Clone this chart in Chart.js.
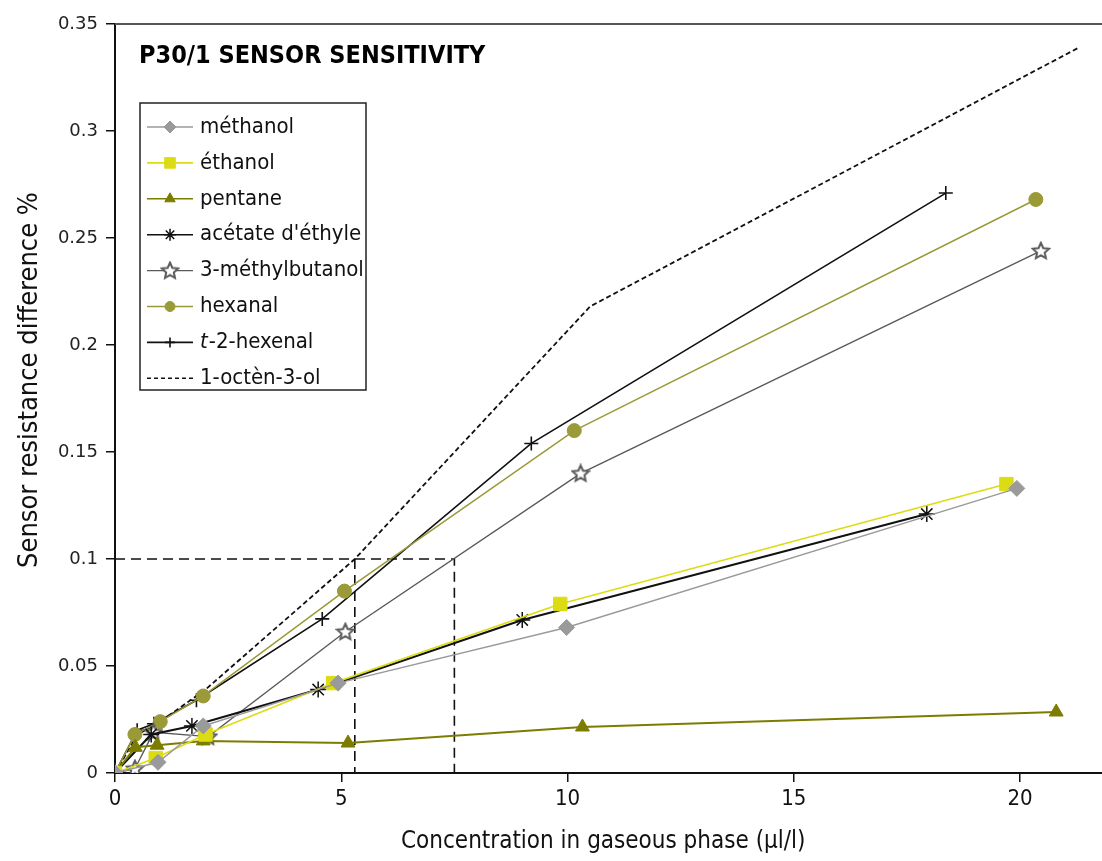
<!DOCTYPE html>
<html>
<head>
<meta charset="utf-8">
<script src="https://cdn.jsdelivr.net/npm/chart.js@4.4.1/dist/chart.umd.min.js"></script>
<style>
  html, body { margin: 0; padding: 0; background: #fff; overflow: hidden; }
  #wrap { width: 1102px; height: 861px; position: relative; }
  canvas { display: block; }
</style>
</head>
<body>
<div id="wrap"><canvas id="c" width="1102" height="861"></canvas></div>
<script>
// ---------- data ----------
const chartTitle = "P30/1 SENSOR SENSITIVITY";
const xTitle = "Concentration in gaseous phase (µl/l)";
const yTitle = "Sensor resistance difference %";

const seriesNames = ["méthanol", "éthanol", "pentane", "acétate d'éthyle", "3-méthylbutanol", "hexanal", "t-2-hexenal", "1-octèn-3-ol"];

const methanolX = [0, 0.95, 1.95, 4.93, 9.98, 19.93];
const methanolY = [0, 0.005, 0.022, 0.042, 0.068, 0.133];

const ethanolX = [0, 0.9, 2.0, 4.82, 9.84, 19.7];
const ethanolY = [0, 0.007, 0.018, 0.042, 0.079, 0.135];

const pentaneX = [0, 0.45, 0.93, 1.95, 5.15, 10.33, 20.8];
const pentaneY = [0, 0.012, 0.013, 0.015, 0.014, 0.0215, 0.0285];

const acetateX = [0, 0.8, 1.7, 4.49, 9.0, 17.94];
const acetateY = [0, 0.018, 0.022, 0.039, 0.0715, 0.121];

const methylbutanolX = [0, 0.44, 0.85, 2.06, 5.09, 10.29, 20.46];
const methylbutanolY = [0, 0.002, 0.019, 0.017, 0.066, 0.140, 0.244];

const hexanalX = [0, 0.44, 1.0, 1.95, 5.07, 10.15, 20.35];
const hexanalY = [0, 0.018, 0.024, 0.036, 0.085, 0.160, 0.268];

const hexenalX = [0, 0.49, 0.86, 1.8, 4.58, 9.2, 18.36];
const hexenalY = [0, 0.020, 0.023, 0.034, 0.072, 0.154, 0.271];

const octenolX = [0, 0.5, 1.0, 2.0, 5.3, 10.5, 21.3];
const octenolY = [0, 0.018, 0.024, 0.039, 0.100, 0.218, 0.339];

// reference (guide) lines at 0.1 %
const guideLevel = 0.1;
const guideXs = [5.3, 7.5];

const xTicks = [0, 5, 10, 15, 20];
const yTicks = [0, 0.05, 0.1, 0.15, 0.2, 0.25, 0.3, 0.35];

// ---------- styles ----------
const NARROW = "'DejaVu Sans Condensed', 'Liberation Sans Narrow', sans-serif";
const PX_PER_UNIT = 45.25; // horizontal scale of the original plot

function makeStar(color) {
  const c = document.createElement('canvas');
  c.width = 20; c.height = 20;
  const g = c.getContext('2d');
  g.beginPath();
  for (let i = 0; i < 10; i++) {
    const r = i % 2 === 0 ? 8.5 : 4;
    const a = -Math.PI / 2 + i * Math.PI / 5;
    const px = 10 + r * Math.cos(a), py = 10.5 + r * Math.sin(a);
    if (i === 0) g.moveTo(px, py); else g.lineTo(px, py);
  }
  g.closePath();
  g.fillStyle = '#ffffff';
  g.fill();
  g.lineWidth = 2;
  g.strokeStyle = color;
  g.stroke();
  return c;
}
const starImg = makeStar('#5a5a5a');

function pts(xs, ys) { return xs.map((x, i) => ({ x: x, y: ys[i] })); }

function series(label, xs, ys, color, style, radius, width, extra) {
  return Object.assign({
    label: label,
    data: pts(xs, ys),
    borderColor: color,
    backgroundColor: color,
    pointBackgroundColor: color,
    pointBorderColor: color,
    pointStyle: style,
    pointRadius: radius,
    pointBorderWidth: 1,
    borderWidth: width,
    tension: 0,
    showLine: true,
    fill: false
  }, extra || {});
}

const datasets = [
  series(seriesNames[0], methanolX, methanolY, '#9a9a9a', 'rectRot', 8, 1.5),
  series(seriesNames[1], ethanolX, ethanolY, '#dcdc14', 'rect', 9.5, 1.6),
  series(seriesNames[2], pentaneX, pentaneY, '#7c7c00', 'triangle', 8, 2),
  series(seriesNames[3], acetateX, acetateY, '#111111', 'star', 8, 2, { pointBorderWidth: 1.5 }),
  series(seriesNames[4], methylbutanolX, methylbutanolY, '#5a5a5a', starImg, 8, 1.4),
  series(seriesNames[5], hexanalX, hexanalY, '#9a9a38', 'circle', 7, 1.5),
  series(seriesNames[6], hexenalX, hexenalY, '#111111', 'cross', 7, 1.6, { pointBorderWidth: 1.6 }),
  series(seriesNames[7], octenolX, octenolY, '#111111', 'circle', 0, 1.8, { borderDash: [5, 3] }),
  // guide lines
  {
    label: 'guide1',
    data: [{ x: 0, y: guideLevel }, { x: guideXs[1], y: guideLevel }, { x: guideXs[1], y: 0 }],
    borderColor: '#111', borderWidth: 1.6, borderDash: [10, 6], pointRadius: 0, showLine: true, tension: 0
  },
  {
    label: 'guide2',
    data: [{ x: guideXs[0], y: guideLevel }, { x: guideXs[0], y: 0 }],
    borderColor: '#111', borderWidth: 1.6, borderDash: [10, 6], pointRadius: 0, showLine: true, tension: 0
  }
];

// ---------- plugins ----------
const frameAndLegend = {
  id: 'frameAndLegend',
  afterDraw(chart) {
    const ctx = chart.ctx;
    const a = chart.chartArea;
    ctx.save();
    // top border
    ctx.strokeStyle = '#555';
    ctx.lineWidth = 2;
    ctx.beginPath();
    ctx.moveTo(a.left, a.top);
    ctx.lineTo(1102, a.top);
    ctx.stroke();
    // bottom axis runs to the right edge of the picture
    ctx.strokeStyle = '#111';
    ctx.beginPath();
    ctx.moveTo(a.right - 2, a.bottom);
    ctx.lineTo(1102, a.bottom);
    ctx.stroke();

    // y axis title
    ctx.save();
    ctx.translate(30, 380);
    ctx.rotate(-Math.PI / 2);
    ctx.fillStyle = '#111';
    ctx.font = "27px " + NARROW;
    ctx.textAlign = 'center';
    ctx.textBaseline = 'middle';
    ctx.fillText(yTitle, 0, 0);
    ctx.restore();

    // title
    ctx.fillStyle = '#000';
    ctx.font = "bold 25px " + NARROW;
    ctx.textBaseline = 'middle';
    ctx.textAlign = 'left';
    ctx.fillText(chartTitle, 139, 56);

    // legend box
    const bx = 140, by = 103, bw = 226, bh = 287;
    ctx.fillStyle = '#fff';
    ctx.fillRect(bx, by, bw, bh);
    ctx.strokeStyle = '#222';
    ctx.lineWidth = 1.5;
    ctx.strokeRect(bx, by, bw, bh);

    ctx.font = "22px " + NARROW;
    for (let i = 0; i < 8; i++) {
      const d = chart.data.datasets[i];
      const yy = 127 + i * 35.9;
      ctx.save();
      ctx.strokeStyle = d.borderColor;
      ctx.lineWidth = Math.min(d.borderWidth, 1.6);
      ctx.setLineDash(d.borderDash ? [4, 3] : []);
      ctx.beginPath();
      ctx.moveTo(147, yy);
      ctx.lineTo(193, yy);
      ctx.stroke();
      ctx.restore();
      if (d.pointRadius > 0) {
        ctx.save();
        ctx.fillStyle = d.pointBackgroundColor;
        ctx.strokeStyle = d.pointBorderColor;
        ctx.lineWidth = d.pointBorderWidth;
        Chart.helpers.drawPoint(ctx, {
          pointStyle: d.pointStyle,
          rotation: 0,
          radius: Math.max(5, d.pointRadius - 2),
          borderWidth: d.pointBorderWidth
        }, 170, yy);
        ctx.restore();
      }
      ctx.fillStyle = '#111';
      ctx.textAlign = 'left';
      ctx.textBaseline = 'middle';
      if (i === 6) {
        ctx.font = "italic 22px " + NARROW;
        ctx.fillText('t', 200, yy);
        const w = ctx.measureText('t').width;
        ctx.font = "22px " + NARROW;
        ctx.fillText('-2-hexenal', 200 + w + 1, yy);
      } else {
        ctx.fillText(d.label, 200, yy);
      }
    }
    ctx.restore();
  }
};

const chart = new Chart(document.getElementById('c'), {
  type: 'scatter',
  data: { datasets: datasets },
  options: {
    responsive: false,
    animation: false,
    events: [],
    layout: { padding: { top: 24, right: 2, left: 0, bottom: 0 } },
    plugins: { legend: { display: false }, tooltip: { enabled: false }, title: { display: false } },
    scales: {
      x: {
        type: 'linear',
        min: 0, max: 21.8,
        afterFit(s) { s.height = 88; s.paddingRight = 0; s.paddingLeft = 0; },
        afterBuildTicks(s) { s.ticks = xTicks.map(v => ({ value: v })); },
        border: { color: '#111', width: 2 },
        grid: { display: true, drawOnChartArea: false, drawTicks: true, tickLength: 9, color: '#111', lineWidth: 1.5 },
        ticks: {
          padding: 4,
          color: '#111',
          font: { family: NARROW, size: 22 },
          callback: v => String(v)
        },
        title: {
          display: true, text: xTitle, color: '#111',
          font: { family: NARROW, size: 24 },
          padding: { top: 0, bottom: 5 }
        }
      },
      y: {
        type: 'linear',
        min: 0, max: 0.35,
        afterFit(s) { s.width = 115; s.paddingTop = 0; s.paddingBottom = 0; },
        afterBuildTicks(s) { s.ticks = yTicks.map(v => ({ value: v })); },
        border: { color: '#111', width: 2 },
        grid: { display: true, drawOnChartArea: false, drawTicks: true, tickLength: 9, color: '#111', lineWidth: 1.5 },
        ticks: {
          padding: 8,
          color: '#222',
          font: { family: "'DejaVu Sans', Verdana, sans-serif", size: 18 },
          callback: v => String(Math.round(v * 100) / 100)
        },
        title: { display: false }
      }
    }
  },
  plugins: [frameAndLegend]
});

// keep the original horizontal scale (about 45 px per µl/l) whatever width the layout leaves
const xs = chart.scales.x;
chart.config.options.scales.x.max = (xs.right - xs.left) / PX_PER_UNIT;
chart.update();
</script>
</body>
</html>
